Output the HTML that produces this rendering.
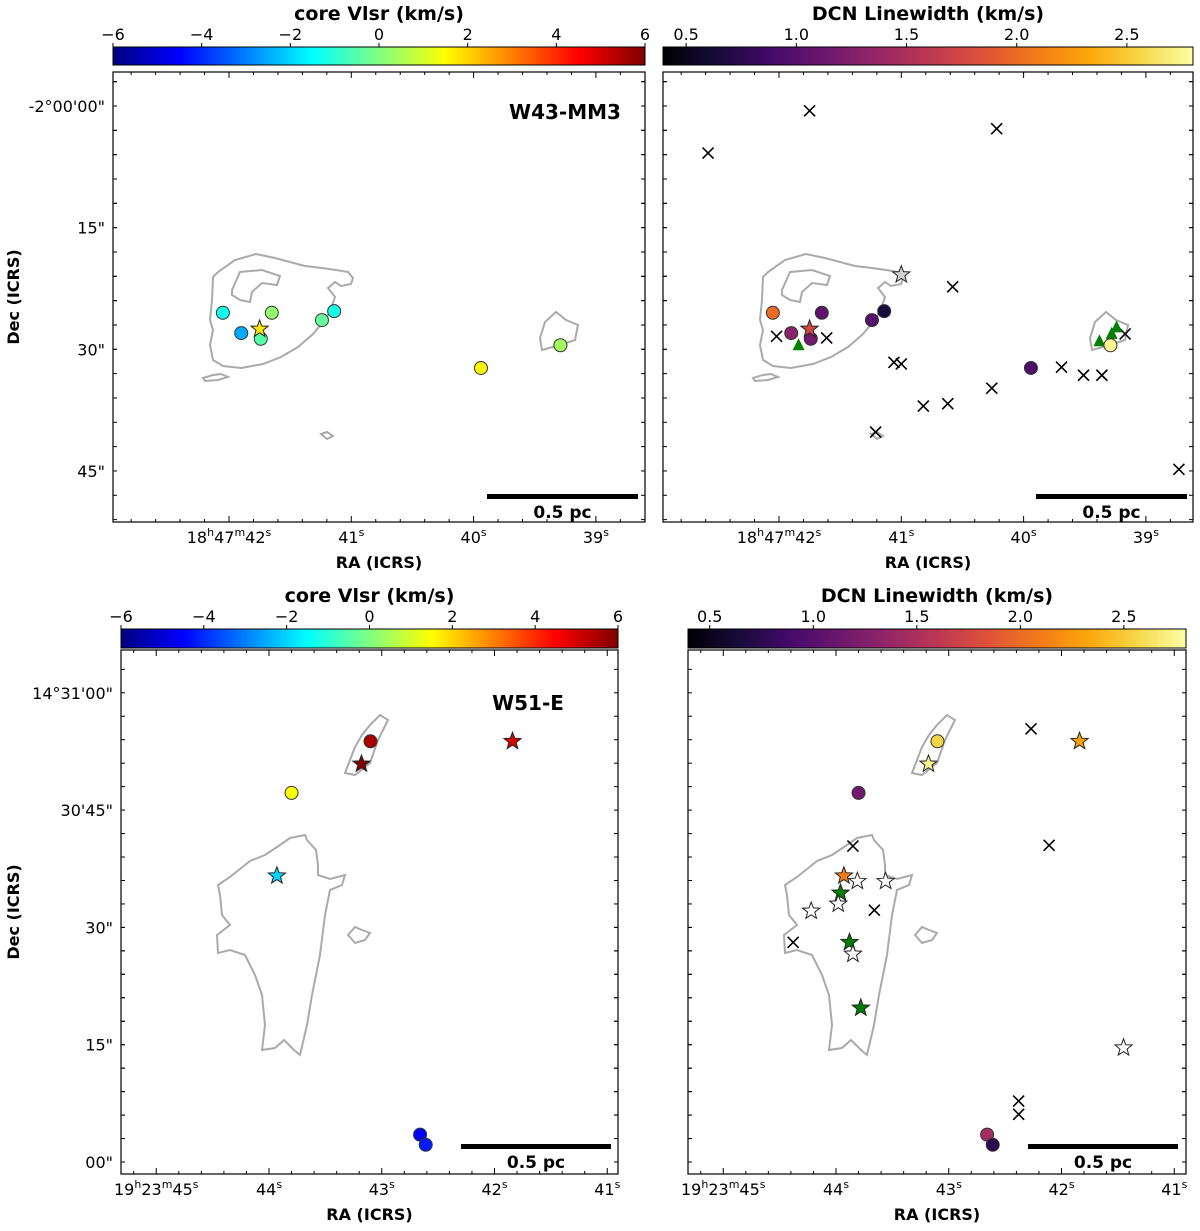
<!DOCTYPE html>
<html><head><meta charset="utf-8"><style>
html,body{margin:0;padding:0;background:#fff;}
svg{display:block;font-family:"DejaVu Sans","Liberation Sans",sans-serif;}
</style></head><body>
<svg id="fig" width="1200" height="1231" viewBox="0 0 1200 1231" xmlns="http://www.w3.org/2000/svg">
<defs>
<linearGradient id="jet" x1="0" x2="1" y1="0" y2="0">
<stop offset="0" stop-color="#00007f"/><stop offset="0.125" stop-color="#0000ff"/><stop offset="0.375" stop-color="#00ffff"/><stop offset="0.625" stop-color="#ffff00"/><stop offset="0.875" stop-color="#ff0000"/><stop offset="1" stop-color="#7f0000"/>
</linearGradient>
<linearGradient id="inferno" x1="0" x2="1" y1="0" y2="0">
<stop offset="0" stop-color="#000004"/><stop offset="0.1" stop-color="#160b39"/><stop offset="0.2" stop-color="#420a68"/><stop offset="0.3" stop-color="#6a176e"/><stop offset="0.4" stop-color="#932667"/><stop offset="0.5" stop-color="#bc3754"/><stop offset="0.6" stop-color="#dd513a"/><stop offset="0.7" stop-color="#f37819"/><stop offset="0.8" stop-color="#fca50a"/><stop offset="0.9" stop-color="#f6d746"/><stop offset="1" stop-color="#fcffa4"/>
</linearGradient>
</defs>
</svg>
<script>
// ---------- data (RA seconds, Dec arcsec offsets) ----------
const w43CoreRA = [42.05, 41.65, 41.90, 41.74, 41.24, 41.14, 39.94, 39.29];
const w43CoreDec = [25.5, 25.5, 28.0, 28.7, 26.4, 25.3, 32.3, 29.5];
const w43CoreVlsr = [-1.3, 0.2, -2.5, -0.5, -0.3, -1.2, 1.6, 0.4];
const w43CoreDCN = [2.0, 1.05, 1.3, 1.15, 1.0, 0.65, 0.95, 2.75];
const w43StarRA = [41.75];
const w43StarDec = [27.5];
const w43StarVlsr = [1.8];
const w43StarDCN = [1.75];
const w43GreyStarRA = [41.00];
const w43GreyStarDec = [20.8];
const w43XRA = [42.58, 41.75, 40.22, 40.58, 42.02, 41.61, 41.06, 41.00, 40.82, 40.62, 40.26, 41.21, 39.69, 39.51, 39.36, 39.17, 38.73];
const w43XDec = [5.8, 0.6, 2.8, 22.3, 28.4, 28.6, 31.6, 31.8, 37.0, 36.7, 34.8, 40.2, 32.2, 33.2, 33.2, 28.1, 44.8];
const w43TriRA = [41.84, 39.38, 39.28, 39.24];
const w43TriDec = [29.5, 29.0, 28.1, 27.3];
const w51CoreRA = [43.10, 43.80, 42.66, 42.61];
const w51CoreDec = [53.8, 47.2, 3.5, 2.2];
const w51CoreVlsr = [5.5, 1.5, -4.5, -4.2];
const w51CoreDCN = [2.55, 1.15, 1.45, 0.75];
const w51StarRA = [43.18, 41.84, 43.93];
const w51StarDec = [50.9, 53.8, 36.6];
const w51StarVlsr = [6.0, 5.0, -2.0];
const w51StarDCN = [2.75, 2.3, 2.1];
const w51GreenStarRA = [43.96, 43.88, 43.78];
const w51GreenStarDec = [34.4, 28.1, 19.7];
const w51WhiteStarRA = [43.81, 43.56, 44.22, 43.98, 43.85, 41.45];
const w51WhiteStarDec = [35.9, 35.9, 32.1, 33.0, 26.6, 14.6];
const w51XRA = [42.27, 42.11, 43.85, 43.66, 44.38, 42.38, 42.38];
const w51XDec = [55.4, 40.5, 40.4, 32.2, 28.1, 7.8, 6.1];
const vTicks = [-6, -4, -2, 0, 2, 4, 6];
const dTicks = [0.5, 1.0, 1.5, 2.0, 2.5];
const topDecTicks = [0, 15, 30, 45];
const topDecLabels = ['-2°00\'00"', '15"', '30"', '45"'];
const topRATicks = [42, 41, 40, 39];
const botDecTicks = [60, 45, 30, 15, 0];
const botDecLabels = ['14°31\'00"', '30\'45"', '30"', '15"', '00"'];
const botRATicks = [45, 44, 43, 42, 41];

const NS = 'http://www.w3.org/2000/svg';
const svg = document.getElementById('fig');
function mk(tag, attrs, parent) {
  const e = document.createElementNS(NS, tag);
  for (const k in attrs) e.setAttribute(k, attrs[k]);
  (parent || svg).appendChild(e);
  return e;
}
function hex(c){return c.map(v=>Math.round(v).toString(16).padStart(2,'0')).join('');}
function interp(stops, t) {
  t = Math.max(0, Math.min(1, t));
  for (let i = 1; i < stops.length; i++) {
    if (t <= stops[i][0]) {
      const a = stops[i-1], b = stops[i], f = (t - a[0]) / (b[0] - a[0] || 1);
      const ca = a[1], cb = b[1];
      return '#' + hex([0,1,2].map(j => ca[j] + (cb[j]-ca[j])*f));
    }
  }
  return '#' + hex(stops[stops.length-1][1]);
}
const jetStops = [[0,[0,0,127]],[0.125,[0,0,255]],[0.375,[0,255,255]],[0.625,[255,255,0]],[0.875,[255,0,0]],[1,[127,0,0]]];
const infStops = [[0,[0,0,4]],[0.1,[22,11,57]],[0.2,[66,10,104]],[0.3,[106,23,110]],[0.4,[147,38,103]],[0.5,[188,55,84]],[0.6,[221,81,58]],[0.7,[243,120,25]],[0.8,[252,165,10]],[0.9,[246,215,70]],[1,[252,255,164]]];
const jetColor = v => interp(jetStops, (v + 6) / 12);
const DMIN = 0.395, DMAX = 2.80;
const infColor = v => interp(infStops, (v - DMIN) / (DMAX - DMIN));

function starPath(cx, cy, r) {
  let d = '';
  for (let i = 0; i < 10; i++) {
    const rr = i % 2 ? r * 0.42 : r;
    const a = -Math.PI/2 + i * Math.PI/5;
    d += (i ? 'L' : 'M') + (cx + rr*Math.cos(a)).toFixed(1) + ',' + (cy + rr*Math.sin(a)).toFixed(1);
  }
  return d + 'Z';
}

const w43Contours = [
 [[100,205],[105,200],[122,188],[143,182],[162,186],[177,190],[192,194],[209,196],[223,198],[235,200],[240,206],[238,212],[228,214],[222,210],[215,216],[222,225],[217,240],[210,250],[200,262],[185,275],[168,285],[150,292],[128,296],[110,294],[100,288],[97,273],[100,258],[97,248],[99,228]],
 [[119,218],[127,200],[149,198],[167,204],[164,213],[149,211],[139,220],[137,230],[127,228],[119,223]],
 [[432,250],[443,240],[453,248],[465,253],[462,268],[447,273],[429,278],[427,266]],
 [[90,306],[100,303],[108,302],[115,305],[105,308],[92,309]],
 [[208,362],[214,360],[220,364],[214,367]]
];
const w51Contours = [
 [[169,188],[184,185],[186,190],[195,200],[197,215],[197,225],[209,229],[224,225],[221,235],[209,240],[204,265],[199,305],[191,345],[186,375],[179,405],[173,400],[163,390],[154,398],[141,400],[144,375],[141,345],[134,325],[124,305],[109,300],[97,303],[96,285],[109,275],[101,265],[99,245],[97,235],[109,227],[129,211],[144,205],[159,195]],
 [[229,110],[234,97],[241,85],[249,75],[259,65],[267,70],[257,90],[249,113],[234,125],[224,123]],
 [[227,285],[234,277],[241,280],[249,283],[244,290],[234,293]]
];

function panel(cfg) {
  const g = mk('g', {});
  
  
  const {x0, y0, w, h} = cfg;
  const cb = mk('rect', {x: x0, y: cfg.cbY, width: w, height: cfg.cbH, fill: 'url(#' + cfg.grad + ')', stroke: '#000', 'stroke-width': 1}, g);
  
  
  cfg.cbTicks.forEach(v => {
    const px = x0 + (v - cfg.cbMin) / (cfg.cbMax - cfg.cbMin) * w;
    mk('line', {x1: px, x2: px, y1: cfg.cbY - 4, y2: cfg.cbY, stroke: '#000'}, g);
    const t = mk('text', {x: px, y: cfg.cbY - 7, 'font-size': 16, 'text-anchor': 'middle'}, g);
    t.textContent = (cfg.grad === 'jet' ? String(v).replace('-', '\u2212') : v.toFixed(1));
    
    
  });
  const ct = mk('text', {x: x0 + w/2, y: cfg.cbY - 27, 'font-size': 19, 'font-weight': 'bold', 'text-anchor': 'middle'}, g);
  ct.textContent = cfg.cbTitle;
  
  
  const fr = mk('rect', {x: x0, y: y0, width: w, height: h, fill: '#fff', stroke: '#000', 'stroke-width': 1.2}, g);
  
  
  const X = ra => cfg.raPx0 - (ra - cfg.raRef) * cfg.raScale;
  const Y = d => cfg.decPx0 + cfg.decSign * (d - cfg.decRef) * cfg.decScale;
  cfg.contours.forEach(c => {
    const p = mk('polygon', {points: c.map(q => (q[0] + x0) + ',' + (q[1] + y0)).join(' '), fill: 'none', stroke: '#aaa', 'stroke-width': 2}, g);
    
    
  });
  const raStep = cfg.raScale, decStep = cfg.decScale * 15;
  for (let k = -10; k <= 60; k++) {
    const px = X(cfg.raRef) + k * raStep / 5;
    if (px > x0 + 2 && px < x0 + w - 2) {
      const L = k % 5 === 0 ? 6 : 3;
      mk('line', {x1: px, x2: px, y1: y0 + h, y2: y0 + h - L, stroke: '#000'}, g);
      mk('line', {x1: px, x2: px, y1: y0, y2: y0 + L, stroke: '#000'}, g);
    }
    const py = Y(cfg.decRef) + k * decStep / 5;
    const py2 = Y(cfg.decRef) - k * decStep / 5;
    [py, py2].forEach(yy => {
      if (yy > y0 + 2 && yy < y0 + h - 2) {
        mk('line', {x1: x0, x2: x0 + 4, y1: yy, y2: yy, stroke: '#000'}, g);
        mk('line', {x1: x0 + w, x2: x0 + w - 4, y1: yy, y2: yy, stroke: '#000'}, g);
      }
    });
  }
  cfg.raTicks.forEach((r, i) => {
    const t = mk('text', {x: X(r), y: y0 + h + 21, 'font-size': 16, 'text-anchor': 'middle'}, g);
    if (i === 0) t.innerHTML = cfg.raPrefix + '<tspan dy="-7" font-size="11">m</tspan><tspan dy="7">' + r + '</tspan><tspan dy="-7" font-size="11">s</tspan>';
    else t.innerHTML = r + '<tspan dy="-7" font-size="11">s</tspan>';
    
    
  });
  const xt = mk('text', {x: x0 + w/2, y: y0 + h + 46, 'font-size': 16, 'font-weight': 'bold', 'text-anchor': 'middle'}, g);
  xt.textContent = 'RA (ICRS)';
  
  
  if (cfg.showY) {
    cfg.decTicks.forEach((d, i) => {
      const t = mk('text', {x: x0 - 8, y: Y(d) + 6, 'font-size': 16, 'text-anchor': 'end'}, g);
      t.textContent = cfg.decLabels[i];
      
      
    });
    const yt = mk('text', {x: 0, y: 0, 'font-size': 16, 'font-weight': 'bold', 'text-anchor': 'middle', transform: 'translate(19,' + (y0 + h/2) + ') rotate(-90)'}, g);
    yt.textContent = 'Dec (ICRS)';
    
    
  }
  cfg.xs.ra.forEach((r, i) => {
    const cx = X(r), cy = Y(cfg.xs.dec[i]), s = 5.5;
    const p = mk('path', {d: `M${cx-s},${cy-s}L${cx+s},${cy+s}M${cx-s},${cy+s}L${cx+s},${cy-s}`, stroke: '#000', 'stroke-width': 1.6}, g);
    
    
  });
  (cfg.tris ? cfg.tris.ra : []).forEach((r, i) => {
    const cx = X(r), cy = Y(cfg.tris.dec[i]);
    const p = mk('polygon', {points: `${cx},${cy-7} ${cx+6},${cy+5} ${cx-6},${cy+5}`, fill: '#008000'}, g);
    
    
  });
  cfg.circles.ra.forEach((r, i) => {
    const c = mk('circle', {cx: X(r), cy: Y(cfg.circles.dec[i]), r: 6.5, fill: cfg.color(cfg.circles.val[i]), stroke: '#333', 'stroke-width': 1}, g);
    
    
  });
  cfg.stars.forEach(st => {
    st.ra.forEach((r, i) => {
      const fill = st.val ? cfg.color(st.val[i]) : st.fill;
      const p = mk('path', {d: starPath(X(r), Y(st.dec[i]), 9), fill: fill, stroke: '#222', 'stroke-width': 1}, g);
      
      
    });
  });
  const sb = mk('rect', {x: cfg.sbX, y: cfg.sbY, width: cfg.sbW, height: 5, fill: '#000'}, g);
  
  
  const st = mk('text', {x: cfg.sbX + cfg.sbW/2, y: cfg.sbY + 24, 'font-size': 17, 'font-weight': 'bold', 'text-anchor': 'middle'}, g);
  st.textContent = '0.5 pc';
  
  
  if (cfg.label) {
    const lt = mk('text', {x: cfg.label[1], y: cfg.label[2], 'font-size': 20, 'font-weight': 'bold', 'text-anchor': 'middle'}, g);
    lt.textContent = cfg.label[0];
    
    
  }
}

const topBase = {y0: 72, w: 532, h: 450, cbY: 47, cbH: 18, raRef: 42, raScale: 122.3, decRef: 0, decScale: 8.11, decSign: 1, decPx0: 106,
  raTicks: topRATicks, decTicks: topDecTicks, decLabels: topDecLabels, raPrefix: '18<tspan dy="-7" font-size="11">h</tspan><tspan dy="7">47</tspan>', contours: w43Contours, sbY: 494, sbW: 151};
const botBase = {y0: 650, w: 497, h: 524, cbY: 629, cbH: 19, raRef: 44, raScale: 112.75, decRef: 0, decScale: 7.82, decSign: -1, decPx0: 1162,
  raTicks: botRATicks, decTicks: botDecTicks, decLabels: botDecLabels, raPrefix: '19<tspan dy="-7" font-size="11">h</tspan><tspan dy="7">23</tspan>', contours: w51Contours, sbY: 1144, sbW: 150};

panel(Object.assign({}, topBase, {name: 'panel-w43-vlsr', x0: 113, raPx0: 229, grad: 'jet', cbMin: -6, cbMax: 6, cbTicks: vTicks, cbTitle: 'core Vlsr (km/s)', color: jetColor, showY: true,
  circles: {ra: w43CoreRA, dec: w43CoreDec, val: w43CoreVlsr}, stars: [{ra: w43StarRA, dec: w43StarDec, val: w43StarVlsr}], xs: {ra: [], dec: []},
  sbX: 487, label: ['W43-MM3', 565, 119]}));
panel(Object.assign({}, topBase, {name: 'panel-w43-dcn', x0: 663, w: 530, raPx0: 779, grad: 'inferno', cbMin: DMIN, cbMax: DMAX, cbTicks: dTicks, cbTitle: 'DCN Linewidth (km/s)', color: infColor, showY: false,
  circles: {ra: w43CoreRA, dec: w43CoreDec, val: w43CoreDCN}, stars: [{ra: w43StarRA, dec: w43StarDec, val: w43StarDCN}, {ra: w43GreyStarRA, dec: w43GreyStarDec, fill: '#d0d0d0'}],
  xs: {ra: w43XRA, dec: w43XDec}, tris: {ra: w43TriRA, dec: w43TriDec}, sbX: 1036}));
panel(Object.assign({}, botBase, {name: 'panel-w51-vlsr', x0: 121, raPx0: 269, grad: 'jet', cbMin: -6, cbMax: 6, cbTicks: vTicks, cbTitle: 'core Vlsr (km/s)', color: jetColor, showY: true,
  circles: {ra: w51CoreRA, dec: w51CoreDec, val: w51CoreVlsr}, stars: [{ra: w51StarRA, dec: w51StarDec, val: w51StarVlsr}], xs: {ra: [], dec: []},
  sbX: 461, label: ['W51-E', 528, 710]}));
panel(Object.assign({}, botBase, {name: 'panel-w51-dcn', x0: 688, w: 498, raPx0: 836, grad: 'inferno', cbMin: DMIN, cbMax: DMAX, cbTicks: dTicks, cbTitle: 'DCN Linewidth (km/s)', color: infColor, showY: false,
  circles: {ra: w51CoreRA, dec: w51CoreDec, val: w51CoreDCN},
  stars: [{ra: w51StarRA, dec: w51StarDec, val: w51StarDCN}, {ra: w51GreenStarRA, dec: w51GreenStarDec, fill: '#008000'}, {ra: w51WhiteStarRA, dec: w51WhiteStarDec, fill: '#ffffff'}],
  xs: {ra: w51XRA, dec: w51XDec}, sbX: 1028}));
</script>
</body></html>
